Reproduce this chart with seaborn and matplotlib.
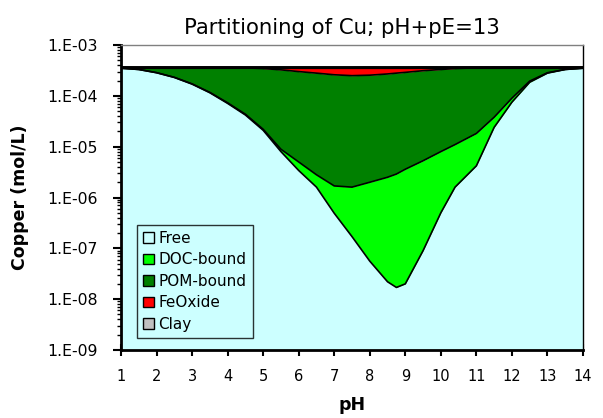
"""
Partitioning of Cu (pH + pE = 13) - stacked log-scale area chart.
"""

import numpy as np
import pandas as pd
import matplotlib
matplotlib.use("Agg")
import matplotlib.pyplot as plt
from matplotlib.patches import Patch
from matplotlib.ticker import FixedLocator, FuncFormatter, LogLocator, NullFormatter
import seaborn as sns

# ─── Data (mol/L) ─────────────────────────────────────────────────────────────
ph = [1, 1.5, 2, 2.5, 3, 3.5, 4, 4.5, 5, 5.5, 6, 6.5, 7, 7.5, 8, 8.5, 8.75,
      9, 9.5, 10, 10.4, 11, 11.5, 12, 12.5, 13, 13.5, 14]

free = [3.5e-4, 3.3e-4, 2.85e-4, 2.3e-4, 1.7e-4, 1.15e-4, 7.1e-5, 4.2e-5,
        2.1e-5, 8.0e-6, 3.4e-6, 1.6e-6, 4.9e-7, 1.7e-7, 5.6e-8, 2.2e-8,
        1.7e-8, 2.0e-8, 9.0e-8, 5.0e-7, 1.6e-6, 4.2e-6, 2.4e-5, 7.5e-5,
        1.85e-4, 2.8e-4, 3.3e-4, 3.5e-4]

doc = [1e-7, 5e-7, 1e-6, 1.5e-6, 2e-6, 2e-6, 2e-6, 1.5e-6,
       1e-6, 9e-7, 1.6e-6, 1.2e-6, 1.2e-6, 1.43e-6, 1.94e-6, 2.48e-6,
       2.88e-6, 3.58e-6, 5.2e-6, 7.5e-6, 9.4e-6, 1.4e-5, 1.4e-5, 1.5e-5,
       1.0e-5, 5e-6, 1e-6, 5e-7]

pom = [1.0e-5, 2.9e-5, 7.4e-5, 1.28e-4, 1.88e-4, 2.43e-4, 2.86e-4, 3.115e-4,
       3.23e-4, 3.16e-4, 2.95e-4, 2.77e-4, 2.58e-4, 2.48e-4, 2.53e-4, 2.67e-4,
       2.77e-4, 2.86e-4, 3.07e-4, 3.22e-4, 3.34e-4, 3.37e-4, 3.21e-4, 2.7e-4,
       1.65e-4, 7.5e-5, 2.9e-5, 9.5e-6]

feoxide = [0, 0, 0, 0, 0, 0, 1e-6, 5e-6,
           1.5e-5, 3.5e-5, 6e-5, 8e-5, 1.0e-4, 1.1e-4, 1.05e-4, 9e-5,
           8e-5, 7e-5, 4.8e-5, 3e-5, 1.5e-5, 5e-6, 1e-6, 0,
           0, 0, 0, 0]

clay = [1e-8] * len(ph)

labels = ["Free", "DOC-bound", "POM-bound", "FeOxide", "Clay"]
colors = ["#CCFFFF", "#00FF00", "#008000", "#FF0000", "#C0C0C0"]


def main():
    sns.set_style("ticks")
    plt.rcParams["font.family"] = ["DejaVu Sans"]
    for k in ("text.color", "axes.labelcolor", "xtick.color", "ytick.color"):
        plt.rcParams[k] = "black"

    df = pd.DataFrame({"pH": ph, "Free": free, "DOC-bound": doc,
                       "POM-bound": pom, "FeOxide": feoxide, "Clay": clay})
    cum = df[labels].cumsum(axis=1)

    fig = plt.figure(figsize=(6.03, 4.18), dpi=100)
    ax = fig.add_axes([0.2007, 0.1627, 0.7661, 0.7296])
    ax.set_yscale("log")
    ax.set_facecolor("white")

    # ── Stacked areas ──────────────────────────────────────────
    lower = np.full(len(ph), 1e-9)
    for name, col in zip(labels, colors):
        upper = cum[name].to_numpy()
        ax.fill_between(df["pH"], lower, upper, color=col, lw=0, zorder=1)
        lower = upper

    # ── Boundary lines ─────────────────────────────────────────
    for name in labels[:-1]:
        sns.lineplot(x=df["pH"], y=cum[name], ax=ax, color="black",
                     lw=1.2, estimator=None, sort=False, zorder=2)
    sns.lineplot(x=df["pH"], y=cum["Clay"], ax=ax, color="black",
                 lw=2.2, estimator=None, sort=False, zorder=3)

    # ── Axes ───────────────────────────────────────────────────
    ax.set_xlim(1, 14)
    ax.set_ylim(1e-9, 1e-3)
    ax.xaxis.set_major_locator(FixedLocator(range(1, 15)))
    ax.xaxis.set_minor_locator(FixedLocator(np.arange(1.5, 14, 1.0)))
    ax.yaxis.set_major_locator(LogLocator(base=10, numticks=10))
    ax.yaxis.set_minor_locator(LogLocator(base=10, subs=np.arange(2, 10),
                                          numticks=20))
    ax.yaxis.set_minor_formatter(NullFormatter())
    ax.yaxis.set_major_formatter(FuncFormatter(
        lambda v, p: f"1.E{int(round(np.log10(v))):+03d}"))

    ax.tick_params(axis="x", which="major", direction="inout", length=8,
                   width=1.5, labelsize=10.5, pad=9.5)
    ax.tick_params(axis="x", which="minor", direction="in", length=3,
                   width=1.2)
    ax.tick_params(axis="y", which="major", direction="out", length=6,
                   width=1.5, labelsize=11.3, pad=10.5)
    ax.tick_params(axis="y", which="minor", direction="out", length=3,
                   width=1.0)

    for s in ("left", "bottom"):
        ax.spines[s].set_linewidth(2)
        ax.spines[s].set_color("black")
    ax.spines["right"].set_linewidth(1)
    ax.spines["right"].set_color("black")
    ax.spines["top"].set_linewidth(1)
    ax.spines["top"].set_color("#808080")
    for s in ax.spines.values():
        s.set_zorder(5)

    ax.set_xlabel("pH", fontsize=12.5, fontweight="bold", labelpad=9)
    ax.set_ylabel("Copper (mol/L)", fontsize=12.5, fontweight="bold",
                  labelpad=13)
    ax.set_title("Partitioning of Cu; pH+pE=13", fontsize=15.3, pad=8,
                 x=0.478)

    # ── Legend ─────────────────────────────────────────────────
    handles = [Patch(facecolor=c, edgecolor="black", lw=1) for c in colors]
    leg = ax.legend(handles, labels, loc="lower left",
                    bbox_to_anchor=(0.035, 0.04), fontsize=11,
                    handlelength=0.7, handleheight=0.7, handletextpad=0.3,
                    labelspacing=0.42, borderpad=0.4, frameon=True,
                    fancybox=False, borderaxespad=0)
    leg.get_frame().set_edgecolor("black")
    leg.get_frame().set_facecolor("none")
    leg.get_frame().set_linewidth(1)
    leg.set_zorder(6)

    fig.savefig("out.png", dpi=100)
    plt.close(fig)


if __name__ == "__main__":
    main()
